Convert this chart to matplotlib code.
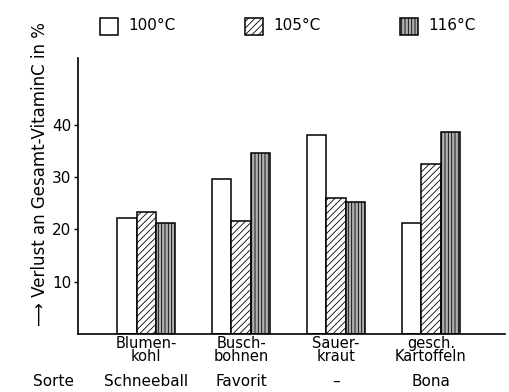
import numpy as np
import matplotlib.pyplot as plt

plt.rcParams['font.family'] = ['DejaVu Sans']
plt.rcParams['hatch.linewidth'] = 0.6

# Sorten und Messwerte
sorten = ['Blumen-\nkohl', 'Busch-\nbohnen', 'Sauer-\nkraut', 'gesch.\nKartoffeln']
varieties = ['Schneeball', 'Favorit', '–', 'Bona']
temps = ['100°C', '105°C', '116°C']
loss_100 = [22.1, 29.6, 38.0, 21.3]
loss_105 = [23.4, 21.6, 26.1, 32.5]
loss_116 = [21.3, 34.7, 25.3, 38.6]
yticks = [10, 20, 30, 40]

fig = plt.figure(figsize=(5.10, 3.92), dpi=100)
ax = fig.add_axes([0.153, 0.148, 0.837, 0.704])

x = np.arange(len(sorten))
w = 0.205
ax.bar(x - w, loss_100, w, color='white', edgecolor='black', linewidth=1.1)
ax.bar(x, loss_105, w, color='white', edgecolor='black', linewidth=1.1, hatch='/////')
ax.bar(x + w, loss_116, w, color='#b0b0b0', edgecolor='black', linewidth=1.1, hatch='|||||')

ax.set_xlim(-0.72, 3.78)
ax.set_ylim(0, 52.8)
ax.spines['top'].set_visible(False)
ax.spines['right'].set_visible(False)
ax.spines['left'].set_linewidth(1.2)
ax.spines['bottom'].set_linewidth(1.2)
ax.set_yticks(yticks)
ax.tick_params(axis='y', length=3, width=1, labelsize=11, pad=2)
ax.set_xticks([])

for i in range(len(sorten)):
    ax.text(x[i], -0.4, sorten[i], ha='center', va='top', fontsize=10.5,
            linespacing=0.8)
    ax.text(x[i], -7.7, varieties[i], ha='center', va='top', fontsize=11)
ax.text(-0.98, -7.7, 'Sorte', ha='center', va='top', fontsize=11)

fig.text(0.078, 0.555, '\u27f6 Verlust an Gesamt-VitaminC in %', rotation=90,
         ha='center', va='center', fontsize=12)

# Legende oben
leg_x = [0.196, 0.48, 0.784]
hatches = [None, '/////', '|||||']
faces = ['white', 'white', '#b0b0b0']
for lx, t, h, fc in zip(leg_x, temps, hatches, faces):
    fig.patches.append(plt.Rectangle((lx, 0.91), 0.035, 0.045, transform=fig.transFigure,
                                     facecolor=fc, edgecolor='black', linewidth=1.1,
                                     hatch=h, figure=fig))
    fig.text(lx + 0.055, 0.935, t, ha='left', va='center', fontsize=11)

fig.savefig('out.png', dpi=100)
